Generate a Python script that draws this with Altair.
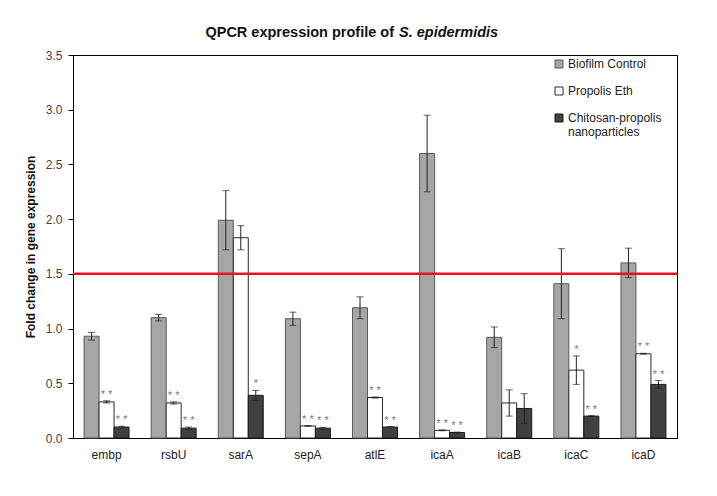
import altair as alt
import pandas as pd

genes = ["embp", "rsbU", "sarA", "sepA", "atlE", "icaA", "icaB", "icaC", "icaD"]
series = ["Biofilm Control", "Propolis Eth", "Chitosan-propolis nanoparticles"]
control = [0.93, 1.10, 1.99, 1.09, 1.19, 2.60, 0.92, 1.41, 1.60]
control_err = [0.035, 0.03, 0.27, 0.06, 0.10, 0.35, 0.095, 0.32, 0.135]
propolis = [0.33, 0.32, 1.83, 0.11, 0.37, 0.07, 0.32, 0.62, 0.77]
propolis_err = [0.01, 0.01, 0.11, 0.004, 0.005, 0.004, 0.12, 0.13, 0.004]
nano = [0.10, 0.09, 0.39, 0.09, 0.10, 0.05, 0.27, 0.20, 0.49]
nano_err = [0.008, 0.01, 0.045, 0.008, 0.004, 0.004, 0.135, 0.004, 0.035]
propolis_sig = ["* *", "* *", "", "* *", "* *", "* *", "", "*", "* *"]
nano_sig = ["* *", "* *", "*", "* *", "* *", "* *", "", "* *", "* *"]
threshold = [1.5]

rows = []
for i, g in enumerate(genes):
    for s, vals, errs, sig in [
        (series[0], control, control_err, [""] * len(genes)),
        (series[1], propolis, propolis_err, propolis_sig),
        (series[2], nano, nano_err, nano_sig),
    ]:
        rows.append({"gene": g, "series": s, "value": vals[i],
                     "lo": vals[i] - errs[i], "hi": vals[i] + errs[i], "sig": sig[i]})
df = pd.DataFrame(rows)
thr_df = pd.DataFrame({"y": threshold})

FONT = "Liberation Sans"
fills = ["#A6A6A6", "#FFFFFF", "#404040"]
strokes = ["#5A5A5A", "#2A2A2A", "#1A1A1A"]

x_enc = alt.X("gene:N", sort=genes, title=None,
              scale=alt.Scale(paddingInner=0.33, paddingOuter=0.165),
              axis=alt.Axis(labelAngle=0, ticks=False, domainColor="black",
                            labelFontSize=12, labelColor="#222", labelFont=FONT,
                            labelPadding=11))
xoff = alt.XOffset("series:N", sort=series, scale=alt.Scale(domain=series, paddingInner=0, paddingOuter=0))
y_scale = alt.Scale(domain=[0, 3.5], nice=False)

base = alt.Chart(df)

bars = base.mark_bar(strokeWidth=1).encode(
    x=x_enc,
    xOffset=xoff,
    y=alt.Y("value:Q", scale=y_scale, title="Fold change in gene expression",
            axis=alt.Axis(values=[0, 0.5, 1, 1.5, 2, 2.5, 3, 3.5], format=".1f", grid=False,
                          tickSize=5, tickColor="black", domainColor="black",
                          labelFontSize=12, labelColor="#444", labelFont=FONT, labelPadding=6,
                          titleFont=FONT, titleFontSize=12, titleFontWeight="bold",
                          titleColor="#111", titlePadding=8)),
    fill=alt.Fill("series:N", sort=series,
                  scale=alt.Scale(domain=series, range=fills),
                  legend=alt.Legend(orient="none", legendX=480, legendY=3, title=None,
                                    symbolType="square", symbolSize=64,
                                    symbolStrokeColor="#333", symbolStrokeWidth=1,
                                    labelFont=FONT, labelFontSize=12, labelColor="#222",
                                    rowPadding=15, padding=0, labelOffset=3,
                                    labelExpr="datum.label == 'Chitosan-propolis nanoparticles' ? ['Chitosan-propolis', 'nanoparticles'] : datum.label")),
    stroke=alt.Stroke("series:N", sort=series,
                      scale=alt.Scale(domain=series, range=strokes), legend=None),
)

err = base.mark_rule(color="#222", strokeWidth=1).encode(
    x=alt.X("gene:N", sort=genes), xOffset=xoff,
    y=alt.Y("lo:Q", scale=y_scale), y2="hi:Q")

cap_lo = base.mark_tick(color="#222", size=7, thickness=1, orient="horizontal").encode(
    x=alt.X("gene:N", sort=genes), xOffset=xoff, y=alt.Y("lo:Q", scale=y_scale))
cap_hi = base.mark_tick(color="#222", size=7, thickness=1, orient="horizontal").encode(
    x=alt.X("gene:N", sort=genes), xOffset=xoff, y=alt.Y("hi:Q", scale=y_scale))

stars = base.mark_text(baseline="alphabetic", dy=-3, color="#7A7A7A", fontSize=11, font=FONT).encode(
    x=alt.X("gene:N", sort=genes), xOffset=xoff, y=alt.Y("hi:Q", scale=y_scale), text="sig:N")

red = alt.Chart(thr_df).mark_rule(color="#E8141B", strokeWidth=2.5).encode(
    y=alt.Y("y:Q", scale=y_scale))

title_df = pd.DataFrame({"a": ["QPCR expression profile of"], "b": ["S. epidermidis"]})
t1 = alt.Chart(title_df).mark_text(align="right", baseline="alphabetic", fontSize=14.5,
                                   fontWeight="bold", font=FONT, color="#111").encode(
    x=alt.value(321), y=alt.value(-18), text="a:N")
t2 = alt.Chart(title_df).mark_text(align="left", baseline="alphabetic", fontSize=14.5,
                                   fontWeight="bold", fontStyle="italic", font=FONT, color="#111").encode(
    x=alt.value(326), y=alt.value(-18), text="b:N")

chart = alt.layer(bars, err, cap_lo, cap_hi, stars, red, t1, t2).resolve_scale(
    fill="independent", stroke="independent"
).properties(
    width=604, height=383,
    autosize=alt.AutoSizeParams(type="none"),
    padding={"left": 65, "top": 47, "right": 32, "bottom": 50},
    background="white",
).configure_view(stroke="black", strokeWidth=1)

chart.save("out.html", embed_options={"renderer": "svg", "actions": False})
